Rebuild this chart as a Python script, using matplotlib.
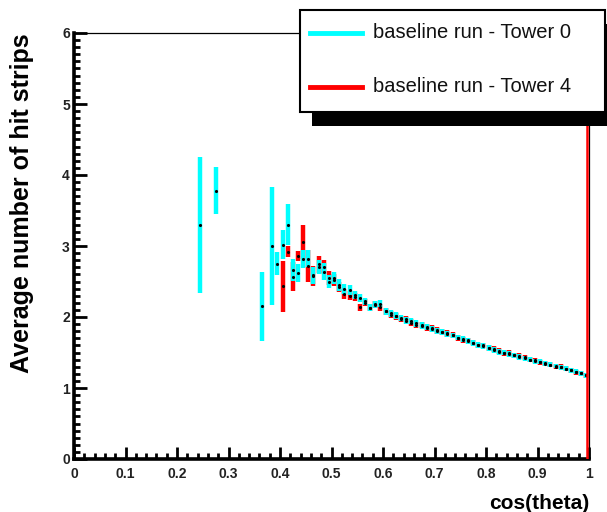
import matplotlib
matplotlib.use("Agg")
import matplotlib.pyplot as plt
from matplotlib.patches import Rectangle
from matplotlib.lines import Line2D
from matplotlib.ticker import MultipleLocator

# profile of average number of hit strips vs cos(theta), two towers
x_tower0 = [0.245, 0.275, 0.365, 0.385, 0.395, 0.405, 0.415, 0.425, 0.435, 0.445,
            0.455, 0.465, 0.475, 0.485, 0.495, 0.505, 0.515, 0.525, 0.535, 0.545,
            0.555, 0.565, 0.575, 0.585, 0.595, 0.605, 0.615, 0.625, 0.635, 0.645,
            0.655, 0.665, 0.675, 0.685, 0.695, 0.705, 0.715, 0.725, 0.735, 0.745,
            0.755, 0.765, 0.775, 0.785, 0.795, 0.805, 0.815, 0.825, 0.835, 0.845,
            0.855, 0.865, 0.875, 0.885, 0.895, 0.905, 0.915, 0.925, 0.935, 0.945,
            0.955, 0.965, 0.975, 0.985, 0.995]
y_tower0 = [3.30, 3.78, 2.15, 3.00, 2.75, 3.02, 3.30, 2.66, 2.62, 2.82,
            2.82, 2.59, 2.70, 2.64, 2.50, 2.55, 2.45, 2.40, 2.38, 2.31,
            2.27, 2.22, 2.13, 2.17, 2.19, 2.08, 2.05, 2.02, 1.99, 1.95,
            1.94, 1.91, 1.88, 1.86, 1.83, 1.80, 1.79, 1.76, 1.74, 1.71,
            1.69, 1.66, 1.63, 1.61, 1.59, 1.56, 1.54, 1.51, 1.50, 1.48,
            1.46, 1.44, 1.42, 1.40, 1.38, 1.37, 1.34, 1.33, 1.31, 1.29,
            1.27, 1.25, 1.23, 1.21, 1.18]
err_tower0 = [0.96, 0.33, 0.49, 0.83, 0.16, 0.20, 0.29, 0.15, 0.12, 0.13,
              0.12, 0.12, 0.10, 0.12, 0.09, 0.08, 0.08, 0.07, 0.07, 0.06,
              0.06, 0.05, 0.05, 0.05, 0.05, 0.05, 0.05, 0.05, 0.045, 0.045,
              0.045, 0.045, 0.045, 0.045, 0.045, 0.045, 0.045, 0.045, 0.04, 0.04,
              0.04, 0.04, 0.04, 0.04, 0.04, 0.04, 0.04, 0.04, 0.04, 0.04,
              0.04, 0.04, 0.035, 0.035, 0.035, 0.035, 0.035, 0.035, 0.035, 0.035,
              0.035, 0.035, 0.035, 0.035, 0.035]

x_tower4 = [0.405, 0.415, 0.425, 0.435, 0.445, 0.455, 0.465, 0.475, 0.485, 0.495,
            0.505, 0.515, 0.525, 0.535, 0.545, 0.555, 0.565, 0.575, 0.585, 0.595,
            0.605, 0.615, 0.625, 0.635, 0.645, 0.655, 0.665, 0.675, 0.685, 0.695,
            0.705, 0.715, 0.725, 0.735, 0.745, 0.755, 0.765, 0.775, 0.785, 0.795,
            0.805, 0.815, 0.825, 0.835, 0.845, 0.855, 0.865, 0.875, 0.885, 0.895,
            0.905, 0.915, 0.925, 0.935, 0.945, 0.955, 0.965, 0.975, 0.985, 0.995]
y_tower4 = [2.43, 2.92, 2.57, 2.86, 3.06, 2.72, 2.58, 2.74, 2.70, 2.55,
            2.52, 2.42, 2.33, 2.30, 2.28, 2.14, 2.20, 2.13, 2.18, 2.14,
            2.08, 2.03, 2.01, 1.97, 1.97, 1.92, 1.89, 1.89, 1.85, 1.84,
            1.81, 1.79, 1.77, 1.75, 1.70, 1.68, 1.67, 1.64, 1.60, 1.60,
            1.56, 1.55, 1.52, 1.49, 1.49, 1.46, 1.45, 1.43, 1.40, 1.39,
            1.36, 1.35, 1.33, 1.30, 1.30, 1.27, 1.25, 1.22, 1.21, 1.18]
err_tower4 = [0.36, 0.08, 0.20, 0.07, 0.24, 0.22, 0.14, 0.12, 0.10, 0.10,
              0.08, 0.07, 0.07, 0.06, 0.06, 0.05, 0.05, 0.05, 0.05, 0.05,
              0.05, 0.05, 0.05, 0.045, 0.045, 0.045, 0.045, 0.045, 0.045, 0.045,
              0.045, 0.045, 0.045, 0.04, 0.04, 0.04, 0.04, 0.04, 0.04, 0.04,
              0.04, 0.04, 0.04, 0.04, 0.04, 0.04, 0.04, 0.035, 0.035, 0.035,
              0.035, 0.035, 0.035, 0.035, 0.035, 0.035, 0.035, 0.035, 0.035, 0.035]

labels = ["baseline run - Tower 0", "baseline run - Tower 4"]
colors = ["#00ffff", "#ff0000"]
xticks = [0, 0.1, 0.2, 0.3, 0.4, 0.5, 0.6, 0.7, 0.8, 0.9, 1]
xtick_labels = ['0', '0.1', '0.2', '0.3', '0.4', '0.5', '0.6', '0.7', '0.8', '0.9', '1']
yticks = [0, 1, 2, 3, 4, 5, 6]

plt.rcParams['font.family'] = ['Liberation Sans', 'DejaVu Sans']

W, H = 607, 512
fig = plt.figure(figsize=(W / 100, H / 100), dpi=100)
ax = fig.add_axes([74 / W, (H - 459) / H, (589 - 74) / W, (459 - 33) / H])

# red first, cyan on top
ax.errorbar(x_tower4, y_tower4, yerr=err_tower4, fmt='none', ecolor=colors[1],
            elinewidth=3.2, capsize=0, zorder=2)
ax.errorbar(x_tower0, y_tower0, yerr=err_tower0, fmt='none', ecolor=colors[0],
            elinewidth=3.2, capsize=0, zorder=3)
ax.plot(x_tower4, y_tower4, 'k.', ms=2.5, zorder=4)
ax.plot(x_tower0, y_tower0, 'k.', ms=2.5, zorder=4)

# red line at the upper edge of tower 4 histogram
ax.axvline(0.997, color=colors[1], lw=1.8, zorder=5)

ax.set_xlim(0, 1)
ax.set_ylim(0, 6)

# ROOT-like frame
for side in ['left', 'bottom']:
    ax.spines[side].set_linewidth(2.6)
for side in ['top', 'right']:
    ax.spines[side].set_linewidth(0.9)

ax.set_xticks(xticks, xtick_labels)
ax.set_yticks(yticks)
ax.xaxis.set_minor_locator(MultipleLocator(0.02))
ax.yaxis.set_minor_locator(MultipleLocator(0.1))
ax.tick_params(which='both', direction='in', top=False, right=False, width=2)
ax.tick_params(which='major', length=9)
ax.tick_params(which='minor', length=4.5)
ax.tick_params(axis='x', which='major', pad=6)
ax.tick_params(axis='y', which='major', pad=3)
for lab in ax.get_xticklabels() + ax.get_yticklabels():
    lab.set_fontweight('bold')
    lab.set_fontsize(10)
    lab.set_color('#222222')

ax.set_ylabel('Average number of hit strips', fontsize=18, fontweight='bold',
              loc='top', labelpad=20)
ax.set_xlabel('cos(theta)', fontsize=15, fontweight='bold', loc='right', labelpad=9)

# legend box with shadow, drawn by hand in figure pixels
def px(x, y):
    return x / W, 1 - y / H

sx, sy = px(312, 126)
fig.add_artist(Rectangle((sx, sy), 320 / W, 102 / H, transform=fig.transFigure,
                         facecolor='black', edgecolor='none', zorder=10))
bx, by = px(300, 112)
fig.add_artist(Rectangle((bx, by), 305 / W, 102 / H, transform=fig.transFigure,
                         facecolor='white', edgecolor='black', lw=1.5, zorder=11))
for i, (lab, col) in enumerate(zip(labels, colors)):
    ly = [33, 87][i]
    x1, y1 = px(310, ly)
    x2, _ = px(362, ly)
    fig.add_artist(Line2D([x1, x2], [y1, y1], transform=fig.transFigure,
                          color=col, lw=3.5, zorder=12))
    tx, _ = px(373, ly)
    fig.text(tx, y1, lab, fontsize=14.5, va='center', ha='left', zorder=12,
             color='#111111')

fig.savefig('out.png', dpi=100)
